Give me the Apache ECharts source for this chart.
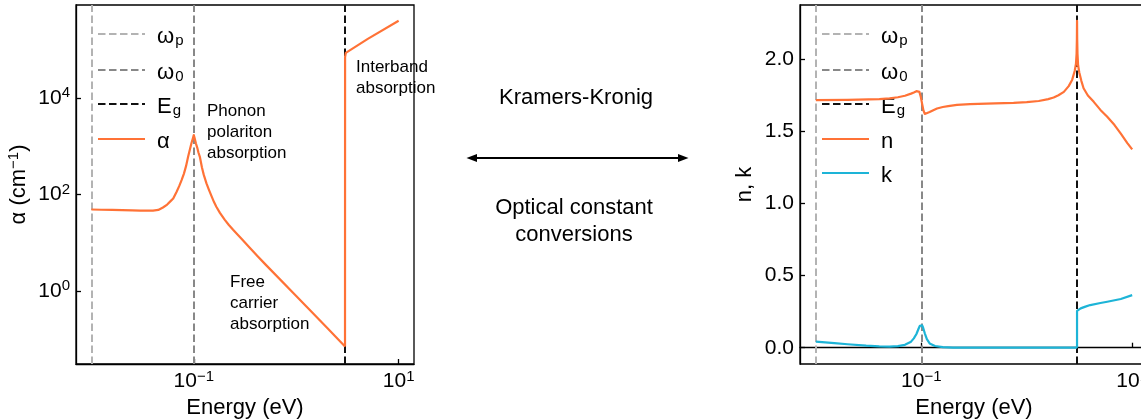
<!DOCTYPE html>
<html>
<head>
<meta charset="utf-8">
<script src="https://cdn.jsdelivr.net/npm/echarts@6/dist/echarts.min.js"></script>
<style>
  html, body { margin: 0; padding: 0; background: #fff; }
  #chart { width: 1141px; height: 419px; }
</style>
</head>
<body>
<div id="chart"></div>
<script>
// ---- absorption coefficient alpha (cm^-1) against photon energy (eV), below the gap ----
const alphaEnergy = [0.01, 0.0125, 0.016, 0.02, 0.025, 0.03, 0.035, 0.04, 0.045, 0.05, 0.055, 0.06,
  0.063, 0.068, 0.072, 0.076, 0.08, 0.084, 0.088, 0.092, 0.095, 0.098, 0.1,
  0.102, 0.105, 0.108, 0.111, 0.1146, 0.12, 0.125, 0.133, 0.14, 0.15, 0.158, 0.166, 0.18, 0.2, 0.22, 0.242,
  0.27, 0.3, 0.35, 0.42, 0.5, 1.0, 2.0, 2.995];
const alphaValues = [49, 48.5, 48, 47.5, 47, 46.5, 46.3, 46.5, 48, 54, 62, 75,
  83, 115, 150, 200, 270, 390, 610, 900, 1180, 1480, 1730,
  1480, 1150, 950, 750, 611, 370, 260, 171, 129, 90, 69, 56, 41.7, 30.2, 23.4, 18.6,
  14.5, 11.35, 7.94, 5.25, 3.55, 0.78, 0.171, 0.070];
// ---- alpha across and above the gap ----
const alphaGapEnergy = [2.995, 3.0, 3.05, 3.1, 5.0, 10];
const alphaGapValues = [0.070, 72000, 88000, 95000, 172000, 410000];

// ---- refractive index n against photon energy (eV) ----
const nEnergy = [0.01, 0.02, 0.04, 0.05, 0.06, 0.07, 0.08, 0.085, 0.09, 0.093, 0.096, 0.099, 0.102, 0.105, 0.108,
  0.112, 0.12, 0.13, 0.141, 0.16, 0.18, 0.218, 0.29, 0.5, 0.75, 1.0, 1.3, 1.6, 1.8, 2.0, 2.25, 2.5, 2.7, 2.85,
  2.93, 2.97, 2.99, 3.0, 3.01, 3.03, 3.07, 3.15, 3.3, 3.46, 3.8, 4.32, 5.0, 5.8, 6.8, 7.77, 9.0, 10];
const nValues = [1.718, 1.720, 1.725, 1.730, 1.738, 1.748, 1.763, 1.771, 1.780, 1.784, 1.775, 1.74, 1.69, 1.645, 1.622,
  1.622, 1.635, 1.648, 1.66, 1.670, 1.676, 1.685, 1.69, 1.695, 1.699, 1.704, 1.712, 1.725, 1.736, 1.752, 1.775, 1.815, 1.86, 1.92,
  1.97, 2.04, 2.14, 2.268, 2.14, 2.04, 1.96, 1.91, 1.85, 1.80, 1.75, 1.706, 1.65, 1.602, 1.545, 1.487, 1.42, 1.376];

// ---- extinction coefficient k against photon energy (eV), below the gap ----
const kEnergy = [0.01, 0.015, 0.02, 0.03, 0.04, 0.05, 0.06, 0.07, 0.08, 0.085, 0.09, 0.094, 0.097, 0.1, 0.102,
  0.104, 0.108, 0.113, 0.12, 0.135, 0.16, 0.2, 0.5, 1.0, 2.0, 2.999];
const kValues = [0.042, 0.032, 0.024, 0.014, 0.009, 0.008, 0.011, 0.02, 0.042, 0.065, 0.095, 0.13, 0.152, 0.164, 0.155,
  0.14, 0.10, 0.06, 0.03, 0.012, 0.004, 0.001, 0, 0, 0, 0];
// ---- k across and above the gap ----
const kGapEnergy = [2.999, 3.0, 3.05, 3.1, 3.25, 3.6, 4.0, 5.0, 5.8, 7.8, 10];
const kGapValues = [0, 0.255, 0.261, 0.265, 0.273, 0.285, 0.296, 0.31, 0.319, 0.338, 0.365];

// ---- characteristic energies (eV) ----
const plasmaEnergy = 0.01;     // ωp
const phononEnergy = 0.1;      // ω0
const gapEnergy = 3.0;         // Eg

// ---- axis ranges and tick values ----
const energyRange = [Math.pow(10, -2.15), Math.pow(10, 1.15)];
const energyTicks = [0.1, 10];
const alphaRange = [Math.pow(10, -1.52), Math.pow(10, 5.94)];
const alphaTicks = [1, 100, 10000];
const nkRange = [-0.113, 2.378];
const nkTicks = [0, 0.5, 1.0, 1.5, 2.0];

const FONT = "'Liberation Sans', Arial, Helvetica, sans-serif";
const ORANGE = '#ff7236';
const BLUE = '#1db4d7';
const C_WP = '#b3b3b3';
const C_W0 = '#888888';
const C_EG = '#111111';
const DASH = [7.5, 3.5];
const LW = 2.2;

const zip = (xs, ys) => xs.map((x, i) => [x, ys[i]]);

const chart = echarts.init(document.getElementById('chart'), null, { renderer: 'canvas' });

const powLabel = v => {
  const e = Math.round(Math.log10(v));
  return '{b|10}{s|' + (e < 0 ? '\u2212' : '') + Math.abs(e) + '}';
};
const tickRich = {
  b: { fontSize: 21, fontFamily: FONT, color: '#000' },
  s: { fontSize: 15, fontFamily: FONT, color: '#000', padding: [0, 0, 10, 0] }
};

function energyAxis(gridIndex) {
  return {
    type: 'log', gridIndex, min: energyRange[0], max: energyRange[1],
    name: 'Energy (eV)', nameLocation: 'middle', nameGap: 31,
    nameTextStyle: { fontSize: 22, fontFamily: FONT, color: '#000' },
    axisLine: { show: true, lineStyle: { color: '#000', width: 1.3 } },
    axisTick: { show: true, inside: true, length: 5, customValues: energyTicks, lineStyle: { color: '#000', width: 1.3 } },
    axisLabel: { customValues: energyTicks, margin: 5, formatter: powLabel, rich: tickRich },
    splitLine: { show: false }, minorTick: { show: false }
  };
}

function vline(name, value, color, xAxisIndex, yAxisIndex) {
  return {
    name, type: 'line', xAxisIndex, yAxisIndex, data: [], symbol: 'none',
    lineStyle: { color, width: 2, type: DASH }, itemStyle: { color },
    markLine: {
      silent: true, symbol: ['none', 'none'], label: { show: false },
      lineStyle: { color, width: 2, type: DASH },
      emphasis: { disabled: true },
      data: [{ xAxis: value }]
    }
  };
}

function curve(name, xs, ys, color, axisIndex) {
  return {
    name, type: 'line', xAxisIndex: axisIndex, yAxisIndex: axisIndex, symbol: 'none',
    data: zip(xs, ys),
    lineStyle: { color, width: LW, join: 'round' }, itemStyle: { color }, z: 5
  };
}

const legendNames = {
  'ωp': '{m|ω}{sub|p}', 'ω0': '{m|ω}{sub|0}', 'Eg': '{m|E}{sub|g}',
  'α': '{m|α}', 'n': '{m|n}', 'k': '{m|k}'
};
function legendAt(name, left, top) {
  return {
    data: [name], left, top, orient: 'vertical', padding: 0,
    itemWidth: 47, itemHeight: 30, selectedMode: false,
    itemStyle: { opacity: 0 },
    formatter: nm => legendNames[nm],
    textStyle: {
      padding: [5, 0, 0, 7],
      rich: {
        m: { fontSize: 22, fontFamily: FONT, color: '#000', lineHeight: 26 },
        sub: { fontSize: 15, fontFamily: FONT, color: '#000', lineHeight: 15, padding: [9, 0, 0, 1] }
      }
    }
  };
}

const legendTopsLeft = [22, 58, 92, 127];
const legendTopsRight = [22, 58, 92, 127, 161];

const option = {
  animation: false,
  backgroundColor: '#fff',
  grid: [
    { left: 76, top: 5, width: 338, height: 359, show: true, borderColor: '#000', borderWidth: 1.3,
      containLabel: false, outerBoundsMode: 'none' },
    { left: 800, top: 5, width: 348, height: 359, show: true, borderColor: '#000', borderWidth: 1.3,
      containLabel: false, outerBoundsMode: 'none' }
  ],
  xAxis: [energyAxis(0), energyAxis(1)],
  yAxis: [
    {
      type: 'log', gridIndex: 0, min: alphaRange[0], max: alphaRange[1],
      name: '{m|α (cm}{s|\u22121}{m|)}', nameLocation: 'middle', nameGap: 45,
      nameTextStyle: {
        rich: {
          m: { fontSize: 22, fontFamily: FONT, color: '#000' },
          s: { fontSize: 15, fontFamily: FONT, color: '#000', padding: [0, 0, 10, 0] }
        }
      },
      axisLine: { show: true, lineStyle: { color: '#000', width: 1.3 } },
      axisTick: { show: true, inside: true, length: 5, customValues: alphaTicks, lineStyle: { color: '#000', width: 1.3 } },
      axisLabel: { customValues: alphaTicks, margin: 6, formatter: powLabel, rich: tickRich },
      splitLine: { show: false }, minorTick: { show: false }
    },
    {
      type: 'value', gridIndex: 1, min: nkRange[0], max: nkRange[1],
      name: 'n, k', nameLocation: 'middle', nameGap: 44,
      nameTextStyle: { fontSize: 22, fontFamily: FONT, color: '#000' },
      axisLine: { show: true, lineStyle: { color: '#000', width: 1.3 } },
      axisTick: { show: true, inside: true, length: 5, customValues: nkTicks, lineStyle: { color: '#000', width: 1.3 } },
      axisLabel: { customValues: nkTicks, margin: 6, formatter: v => v.toFixed(1), fontSize: 21, fontFamily: FONT, color: '#000' },
      splitLine: { show: false }
    }
  ],
  legend: [
    legendAt('ωp', 97, legendTopsLeft[0]),
    legendAt('ω0', 97, legendTopsLeft[1]),
    legendAt('Eg', 97, legendTopsLeft[2]),
    legendAt('α', 97, legendTopsLeft[3]),
    legendAt('ωp', 821, legendTopsRight[0]),
    legendAt('ω0', 821, legendTopsRight[1]),
    legendAt('Eg', 821, legendTopsRight[2]),
    legendAt('n', 821, legendTopsRight[3]),
    legendAt('k', 821, legendTopsRight[4])
  ],
  series: [
    vline('ωp', plasmaEnergy, C_WP, 0, 0),
    vline('ω0', phononEnergy, C_W0, 0, 0),
    vline('Eg', gapEnergy, C_EG, 0, 0),
    curve('α', alphaEnergy, alphaValues, ORANGE, 0),
    curve('α', alphaGapEnergy, alphaGapValues, ORANGE, 0),
    vline('ωp', plasmaEnergy, C_WP, 1, 1),
    vline('ω0', phononEnergy, C_W0, 1, 1),
    vline('Eg', gapEnergy, C_EG, 1, 1),
    curve('n', nEnergy, nValues, ORANGE, 1),
    curve('k', kEnergy, kValues, BLUE, 1),
    curve('k', kGapEnergy, kGapValues, BLUE, 1)
  ],
  graphic: [
    // annotations on the absorption panel
    { type: 'text', left: 356, top: 57, style: { text: 'Interband\nabsorption', font: '17px ' + FONT, lineHeight: 21, fill: '#000' } },
    { type: 'text', left: 207, top: 101, style: { text: 'Phonon\npolariton\nabsorption', font: '17px ' + FONT, lineHeight: 21, fill: '#000' } },
    { type: 'text', left: 230, top: 272, style: { text: 'Free\ncarrier\nabsorption', font: '17px ' + FONT, lineHeight: 21, fill: '#000' } },
    // conversion between the two panels
    { type: 'text', x: 576, y: 98, style: { text: 'Kramers-Kronig', font: '22px ' + FONT, fill: '#000', align: 'center', verticalAlign: 'middle' } },
    { type: 'text', x: 574, y: 221, style: { text: 'Optical constant\nconversions', font: '22px ' + FONT, lineHeight: 27, fill: '#000', align: 'center', verticalAlign: 'middle' } },
    { type: 'line', shape: { x1: 474, y1: 158, x2: 681, y2: 158 }, style: { stroke: '#000', lineWidth: 2 } },
    { type: 'polygon', shape: { points: [[466.5, 158], [477, 154], [477, 162]] }, style: { fill: '#000' } },
    { type: 'polygon', shape: { points: [[688.5, 158], [678, 154], [678, 162]] }, style: { fill: '#000' } }
  ]
};

chart.setOption(option);
</script>
</body>
</html>
